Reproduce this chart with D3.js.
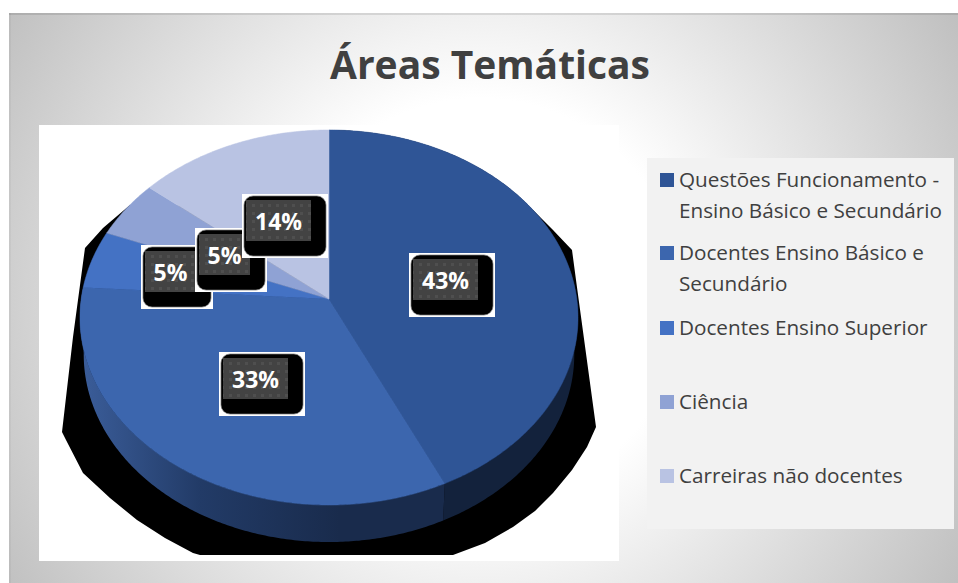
<!DOCTYPE html>
<html lang="pt">
<head>
<meta charset="utf-8">
<script src="https://cdn.jsdelivr.net/npm/d3@7"></script>
<style>
html,body{margin:0;padding:0;background:#fff}
svg{display:block}
text{font-family:"Open Sans",sans-serif}
</style>
</head>
<body>
<svg id="chart" width="958" height="583"></svg>
<script>
// ---- data ----
const chartTitle = "Áreas Temáticas";
const categories = [
  "Questões Funcionamento - Ensino Básico e Secundário",
  "Docentes Ensino Básico e Secundário",
  "Docentes Ensino Superior",
  "Ciência",
  "Carreiras não docentes"
];
const values = [43, 33, 5, 5, 14];
const valueLabels = ["43%", "33%", "5%", "5%", "14%"];
const legendLines = [
  ["Questões Funcionamento -", "Ensino Básico e Secundário"],
  ["Docentes Ensino Básico e", "Secundário"],
  ["Docentes Ensino Superior"],
  ["Ciência"],
  ["Carreiras não docentes"]
];
const sliceColors = ["#2f5596", "#3c66ae", "#4472c4", "#8fa2d4", "#b9c3e3"];

// ---- layout ----
const pieCenter = {x: 329, y: 299};
const persp = {A: 247.8, B: 185.7, k: 0.0987};
const wall = {drop: 37, shrink: 0.985};
// label box top-left corners, drawn in the reference's stacking order
const labelBoxes = [
  {i: 0, x: 409, y: 253}, {i: 1, x: 219, y: 352},
  {i: 2, x: 141, y: 245}, {i: 3, x: 195, y: 228}, {i: 4, x: 242, y: 194}
];
const legendRowBaselines = [187, 260, 335, 409, 483];
// outline of the hard black drop shadow behind the pie (decoration only)
const shadowOutline = [[130,205],[103,228],[85,248],[73,337],[62,432],[66,440],[83,473],[110,498],[137,520],[165,538],[193,553],[200,555],
  [453,555],[485,543],[513,527],[535,511],[553,493],[572,470],[587,447],[596,427],[576,280],[572,250],[553,230],[533,210]];

const svg = d3.select("#chart");
const defs = svg.append("defs");

const bg = defs.append("radialGradient").attr("id","bg").attr("gradientUnits","userSpaceOnUse")
  .attr("cx",480).attr("cy",300).attr("r",560);
[[0,"#ffffff"],[0.36,"#ffffff"],[1,"#bfbfbf"]].forEach(s=>bg.append("stop").attr("offset",s[0]).attr("stop-color",s[1]));

const wg = defs.append("linearGradient").attr("id","wallA").attr("gradientUnits","userSpaceOnUse")
  .attr("x1",85).attr("x2",340).attr("y1",0).attr("y2",0);
[[0,"#3a5c98"],[0.45,"#223b67"],[1,"#192b4c"]].forEach(s=>wg.append("stop").attr("offset",s[0]).attr("stop-color",s[1]));

const dots = defs.append("pattern").attr("id","dots").attr("patternUnits","userSpaceOnUse")
  .attr("width",8).attr("height",8);
dots.append("rect").attr("width",8).attr("height",8).attr("fill","#434343");
dots.append("rect").attr("x",2).attr("y",2).attr("width",3).attr("height",3).attr("fill","#4f4f4f");

// background panel
svg.append("rect").attr("x",9).attr("y",13).attr("width",949).attr("height",570).attr("fill","url(#bg)");
svg.append("rect").attr("x",9).attr("y",13).attr("width",949).attr("height",2).attr("fill","#000").attr("opacity",0.1);
svg.append("rect").attr("x",9).attr("y",13).attr("width",2).attr("height",570).attr("fill","#000").attr("opacity",0.03);

// white plot area and legend box
svg.append("rect").attr("x",39).attr("y",125).attr("width",580).attr("height",436).attr("fill","#fff");
svg.append("rect").attr("x",647).attr("y",158).attr("width",307).attr("height",371).attr("fill","#f2f2f2");

// title
svg.append("text").attr("x",490).attr("y",79).attr("text-anchor","middle")
  .attr("font-size",39).attr("font-weight",700).attr("fill","#404040").text(chartTitle);

// pie geometry: perspective projection of a unit circle
function project(a, r, shrink = 1, drop = 0) {
  const u = r * Math.sin(a), v = -r * Math.cos(a);
  const d = 1 - persp.k * v;
  return [pieCenter.x + shrink * persp.A * u / d, pieCenter.y + drop + persp.B * v / d];
}
const arcs = d3.pie().sort(null).value(d => d)(values);
const line = d3.line();
const rimAngles = (a0, a1) => {
  const n = Math.max(2, Math.ceil((a1 - a0) / 0.01));
  return d3.range(n + 1).map(i => a0 + (a1 - a0) * i / n);
};

// shadow
svg.append("path").attr("d", line(shadowOutline) + "Z").attr("fill", "#000");

// walls (lower rim is a shrunken, dropped copy of the top rim)
svg.append("g").selectAll("path").data(arcs.slice(0, 2)).join("path")
  .attr("d", d => {
    const as = rimAngles(d.startAngle, d.endAngle);
    return line(as.map(a => project(a, 1)).concat(as.slice().reverse().map(a => project(a, 1, wall.shrink, wall.drop)))) + "Z";
  })
  .attr("fill", (d, i) => i === 0 ? "#13223c" : "url(#wallA)");

// top faces
svg.append("g").selectAll("path").data(arcs).join("path")
  .attr("d", d => line([[pieCenter.x, pieCenter.y]].concat(rimAngles(d.startAngle, d.endAngle).map(a => project(a, 1)))) + "Z")
  .attr("fill", (d, i) => sliceColors[i])
  .attr("stroke", (d, i) => sliceColors[i]).attr("stroke-width", 0.5);

// data labels
const boxH = 64;
labelBoxes.forEach(b => {
  const label = valueLabels[b.i];
  const boxW = label.length === 3 ? 86 : 72;
  const g = svg.append("g").attr("transform", `translate(${b.x},${b.y})`);
  g.append("rect").attr("width", boxW).attr("height", boxH).attr("fill", "#fff");
  g.append("rect").attr("x", 2).attr("y", 2).attr("width", boxW - 4).attr("height", boxH - 4).attr("rx", 9)
    .attr("fill", "#000").attr("stroke", "#777").attr("stroke-width", 0.7);
  const gw = boxW - 21;
  g.append("rect").attr("x", 4).attr("y", 6).attr("width", gw).attr("height", 41).attr("fill", "url(#dots)");
  g.append("text").attr("x", 4 + gw / 2).attr("y", 36).attr("text-anchor", "middle")
    .attr("font-size", 23).attr("font-weight", 700).attr("fill", "#fff").text(label);
});

// legend
legendLines.forEach((lines, i) => {
  const y0 = legendRowBaselines[i];
  svg.append("rect").attr("x", 660).attr("y", y0 - 14).attr("width", 14).attr("height", 14).attr("fill", sliceColors[i]);
  lines.forEach((t, j) => svg.append("text").attr("x", 679).attr("y", y0 + j * 30.5)
    .attr("font-size", 20.7).attr("fill", "#404040").text(t));
});
</script>
</body>
</html>
